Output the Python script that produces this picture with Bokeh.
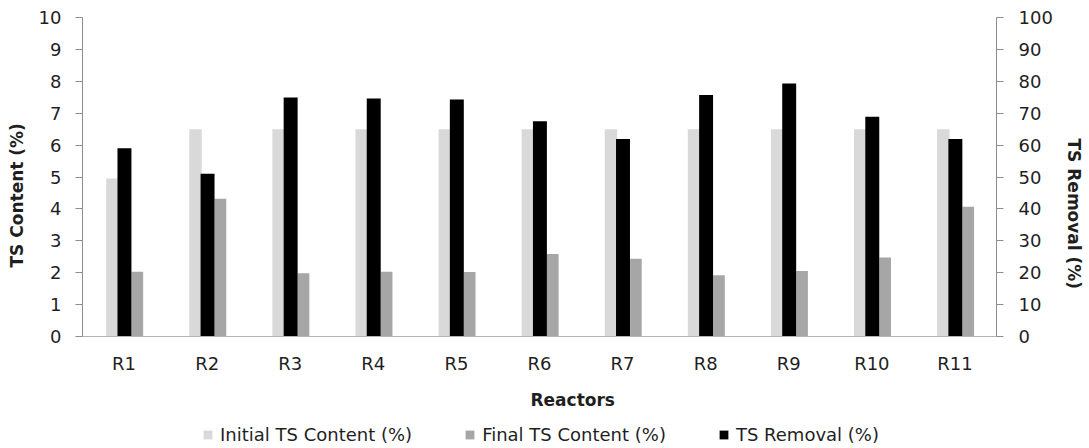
from bokeh.plotting import figure
from bokeh.layouts import column
from bokeh.models import (ColumnDataSource, FactorRange, Range1d, LinearAxis,
                          FixedTicker, Legend, LegendItem, Title)
from bokeh.transform import dodge
from bokeh.embed import file_html
from bokeh.resources import INLINE

reactors = ["R1", "R2", "R3", "R4", "R5", "R6", "R7", "R8", "R9", "R10", "R11"]
initial_ts = [4.95, 6.5, 6.5, 6.5, 6.5, 6.5, 6.5, 6.5, 6.5, 6.5, 6.5]
final_ts = [2.03, 4.32, 1.98, 2.03, 2.02, 2.59, 2.44, 1.92, 2.05, 2.48, 4.07]
ts_removal = [59.0, 51.0, 74.9, 74.6, 74.3, 67.5, 61.9, 75.7, 79.3, 68.9, 61.9]
left_ticks = list(range(0, 11))
right_ticks = list(range(0, 101, 10))
series_labels = ["Initial TS Content (%)", "Final TS Content (%)", "TS Removal (%)"]
series_fields = ["initial", "final", "removal"]
series_colors = ["#d9d9d9", "#a6a6a6", "#000000"]

FONT = "DejaVu Sans"
TXT = "#1f1f1f"
AX = "#8c8c8c"

src = ColumnDataSource(dict(reactor=reactors, initial=initial_ts,
                            final=final_ts, removal=ts_removal))

p = figure(x_range=FactorRange(*reactors), y_range=Range1d(0, 10),
           width=1089, height=423, output_backend="svg", toolbar_location=None,
           min_border_left=82, min_border_right=92, min_border_top=17,
           min_border_bottom=87)
p.extra_y_ranges = {"removal": Range1d(0, 100)}
p.outline_line_color = None
p.xgrid.visible = False
p.ygrid.visible = False

p.vbar(x=dodge("reactor", -0.14, range=p.x_range), top="initial",
       width=0.15, source=src, fill_color=series_colors[0], line_color=None)
p.vbar(x=dodge("reactor", 0.16, range=p.x_range), top="final",
       width=0.14, source=src, fill_color=series_colors[1], line_color=None)
p.vbar(x=dodge("reactor", 0.005, range=p.x_range), top="removal",
       width=0.168, source=src, fill_color=series_colors[2], line_color=None,
       y_range_name="removal")

# x axis
xa = p.xaxis[0]
xa.axis_line_color = "#b3b3b3"
xa.major_tick_line_color = None
xa.minor_tick_line_color = None
xa.major_tick_out = 0
xa.major_label_text_font = FONT
xa.major_label_text_font_size = "18px"
xa.major_label_text_color = TXT
xa.major_label_standoff = 16

# left y axis
ya = p.yaxis[0]
ya.ticker = FixedTicker(ticks=left_ticks)
ya.axis_line_color = AX
ya.major_tick_line_color = AX
ya.minor_tick_line_color = None
ya.major_tick_out = 7
ya.major_tick_in = 0
ya.major_label_text_font = FONT
ya.major_label_text_font_size = "18px"
ya.major_label_text_color = TXT
ya.major_label_standoff = 14

# right y axis
yr = LinearAxis(y_range_name="removal", ticker=FixedTicker(ticks=right_ticks))
yr.axis_line_color = AX
yr.major_tick_line_color = AX
yr.minor_tick_line_color = None
yr.major_tick_out = 7
yr.major_tick_in = 0
yr.major_label_text_font = FONT
yr.major_label_text_font_size = "18px"
yr.major_label_text_color = TXT
yr.major_label_standoff = 15
p.add_layout(yr, "right")

# axis titles (positioned like the reference)
def axis_title(text, side, offset, standoff, valign):
    t = Title(text=text, align="left", offset=offset, standoff=standoff,
              vertical_align=valign, text_font=FONT, text_font_style="bold",
              text_font_size="17px", text_color=TXT)
    p.add_layout(t, side)

axis_title("Reactors", "below", 448, 23, "bottom")
axis_title("TS Content (%)", "left", 69, 13, "top")
axis_title("TS Removal (%)", "right", 121, 12, "top")

# legend strip below the chart (its bars lie outside its visible y range)
lf = figure(width=1089, height=25, output_backend="svg", toolbar_location=None,
            x_range=p.x_range, y_range=Range1d(-1, 0),
            x_axis_location=None, y_axis_location=None, min_border=0)
lf.outline_line_color = None
lf.grid.visible = False
items = []
for lab, fld, col in zip(series_labels, series_fields, series_colors):
    r = lf.vbar(x="reactor", top=fld, width=0.1, source=src,
                fill_color=col, line_color=None)
    items.append(LegendItem(label=lab, renderers=[r]))
legend = Legend(items=items, orientation="horizontal", location=(120, 3),
                border_line_color=None, background_fill_alpha=0,
                glyph_width=11, glyph_height=11, label_standoff=7, spacing=52,
                padding=0, margin=0,
                label_text_font=FONT, label_text_font_size="18px",
                label_text_color=TXT)
lf.add_layout(legend)

open("out.html", "w").write(file_html(column(p, lf, spacing=0), INLINE))
